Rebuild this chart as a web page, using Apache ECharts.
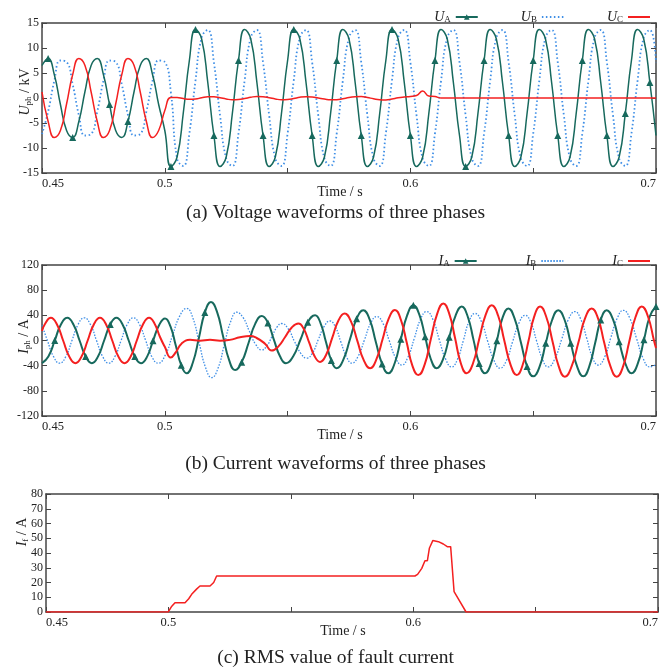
<!DOCTYPE html>
<html>
<head>
<meta charset="utf-8">
<script src="https://cdn.jsdelivr.net/npm/echarts@6/dist/echarts.min.js"></script>
<style>
  html, body { margin: 0; padding: 0; background: #fff; }
  #main { width: 671px; height: 668px; }
</style>
</head>
<body>
<div id="main"></div>
<script>
// ---- (a) phase voltages, kV, sampled every 2.5 ms ----
const voltTime = [
  0.45, 0.4525, 0.455, 0.4575, 0.46, 0.4625, 0.465, 0.4675, 0.47, 0.4725,
  0.475, 0.4775, 0.48, 0.4825, 0.485, 0.4875, 0.49, 0.4925, 0.495, 0.4975,
  0.5, 0.5025, 0.505, 0.5075, 0.51, 0.5125, 0.515, 0.5175, 0.52, 0.5225,
  0.525, 0.5275, 0.53, 0.5325, 0.535, 0.5375, 0.54, 0.5425, 0.545, 0.5475,
  0.55, 0.5525, 0.555, 0.5575, 0.56, 0.5625, 0.565, 0.5675, 0.57, 0.5725,
  0.575, 0.5775, 0.58, 0.5825, 0.585, 0.5875, 0.59, 0.5925, 0.595, 0.5975,
  0.6, 0.6025, 0.605, 0.6075, 0.61, 0.6125, 0.615, 0.6175, 0.62, 0.6225,
  0.625, 0.6275, 0.63, 0.6325, 0.635, 0.6375, 0.64, 0.6425, 0.645, 0.6475,
  0.65, 0.6525, 0.655, 0.6575, 0.66, 0.6625, 0.665, 0.6675, 0.67, 0.6725,
  0.675, 0.6775, 0.68, 0.6825, 0.685, 0.6875, 0.69, 0.6925, 0.695, 0.6975,
  0.7
];
const uA = [
  6.5, 7.9, 4.7, -1.3, -6.5, -7.9, -4.7, 1.3,
  6.5, 7.9, 4.7, -1.3, -6.5, -7.9, -4.7, 1.3,
  6.5, 7.9, 4.7, -1.3, -6.5,
  -13.7, -11.8, -3.1, 7.5, 13.7, 11.8, 3.1, -7.5,
  -13.7, -11.8, -3.1, 7.5, 13.7, 11.8, 3.1, -7.5,
  -13.7, -11.8, -3.1, 7.5, 13.7, 11.8, 3.1, -7.5,
  -13.7, -11.8, -3.1, 7.5, 13.7, 11.8, 3.1, -7.5,
  -13.7, -11.8, -3.1, 7.5, 13.7, 11.8, 3.1, -7.5,
  -13.7, -11.8, -3.1, 7.5, 13.7, 11.8, 3.1, -7.5,
  -13.7, -11.8, -3.1, 7.5, 13.7, 11.8, 3.1, -7.5,
  -13.7, -11.8, -3.1, 7.5, 13.7, 11.8, 3.1, -7.5,
  -13.7, -11.8, -3.1, 7.5, 13.7, 11.8, 3.1, -7.5,
  -13.7, -11.8, -3.1, 7.5, 13.7, 11.8, 3.1, -7.5
];
const uB = [
  -7.2, -2.7, 3.4, 7.5, 7.2, 2.7, -3.4, -7.5,
  -7.2, -2.7, 3.4, 7.5, 7.2, 2.7, -3.4, -7.5,
  -7.2, -2.7, 3.4, 7.5, 7.2, 1,
  -12.1, -13.6, -7.1, 3.5, 12.1, 13.6, 7.1, -3.5,
  -12.1, -13.6, -7.1, 3.5, 12.1, 13.6, 7.1, -3.5,
  -12.1, -13.6, -7.1, 3.5, 12.1, 13.6, 7.1, -3.5,
  -12.1, -13.6, -7.1, 3.5, 12.1, 13.6, 7.1, -3.5,
  -12.1, -13.6, -7.1, 3.5, 12.1, 13.6, 7.1, -3.5,
  -12.1, -13.6, -7.1, 3.5, 12.1, 13.6, 7.1, -3.5,
  -12.1, -13.6, -7.1, 3.5, 12.1, 13.6, 7.1, -3.5,
  -12.1, -13.6, -7.1, 3.5, 12.1, 13.6, 7.1, -3.5,
  -12.1, -13.6, -7.1, 3.5, 12.1, 13.6, 7.1, -3.5,
  -12.1, -13.6, -7.1, 3.5, 12.1, 13.6, 7.1
];
const uC = [
  1.2, -4.7, -7.9, -6.5, -1.2, 4.7, 7.9, 6.5,
  1.2, -4.7, -7.9, -6.5, -1.2, 4.7, 7.9, 6.5,
  1.2, -4.7, -7.9, -6.5, -2.5,
  0.1, 0.1, -0.1, -0.25, -0.2, 0.05, 0.25, 0.25, 0.05, -0.2,
  -0.35, -0.3, -0.1, 0.15, 0.3, 0.25, 0.05, -0.2, -0.35, -0.3,
  -0.1, 0.15, 0.25, 0.2, 0, -0.2, -0.35, -0.35, -0.15, 0.1,
  0.25, 0.3, 0.1, -0.15, -0.35, -0.4, -0.2, 0.05, 0.2, 0.3,
  0.5, 1.4, 0.4, 0.3, 0, 0, 0, 0, 0, 0,
  0, 0, 0, 0, 0, 0, 0, 0, 0, 0,
  0, 0, 0, 0, 0, 0, 0, 0, 0, 0,
  0, 0, 0, 0, 0, 0, 0, 0, 0, 0
];
const uAMarks = [0.4537, 0.4634, 0.4772, 0.4841, 0.5014, 0.5114, 0.5193, 0.5299, 0.5399,
  0.5514, 0.5605, 0.5702, 0.5806, 0.5914, 0.5994, 0.6107, 0.6215, 0.6301, 0.6405,
  0.6491, 0.6602, 0.67, 0.6792, 0.6885, 0.6966];

// ---- (b) phase currents, A: [time, value] at peaks, crossings and eighth points ----
const iA = [
  [0.45, -36], [0.4526, -25.5], [0.4552, 0], [0.4577, 25.5], [0.4603, 36],
  [0.4628, 25.5], [0.4653, 0], [0.4678, -25.5], [0.4703, -36],
  [0.4728, -25.5], [0.4753, 0], [0.4778, 25.5], [0.4803, 36],
  [0.4828, 25.5], [0.4853, 0], [0.4878, -25.5], [0.4903, -36],
  [0.4928, -25.6], [0.4952, -0.5], [0.4977, 24.6], [0.5001, 35],
  [0.5023, 22.3], [0.5045, -8.5], [0.5067, -39.3], [0.5089, -52],
  [0.5114, -35.4], [0.5139, 4.5], [0.5163, 44.4], [0.5188, 61],
  [0.5213, 45.2], [0.5237, 7], [0.5262, -31.2], [0.5286, -47],
  [0.5313, -34.4], [0.5341, -4], [0.5368, 26.4], [0.5395, 39],
  [0.542, 28], [0.5444, 1.5], [0.5469, -25], [0.5493, -36],
  [0.5523, -24.9], [0.5553, 2], [0.5582, 28.9], [0.5612, 40],
  [0.5634, 27.7], [0.5656, -2], [0.5678, -31.7], [0.57, -44],
  [0.5727, -30.5], [0.5754, 2], [0.5781, 34.5], [0.5808, 48],
  [0.5834, 33.4], [0.5859, -2], [0.5885, -37.4], [0.591, -52],
  [0.5936, -36.2], [0.5961, 2], [0.5987, 40.2], [0.6012, 56],
  [0.6036, 41.4], [0.606, 6], [0.6083, -29.4], [0.6107, -44],
  [0.6133, -29.6], [0.6158, 5], [0.6184, 39.6], [0.6209, 54],
  [0.6233, 38.5], [0.6257, 1], [0.628, -36.5], [0.6304, -52],
  [0.6328, -36.9], [0.6352, -0.5], [0.6375, 35.9], [0.6399, 51],
  [0.6424, 35.2], [0.645, -3], [0.6475, -41.2], [0.65, -57],
  [0.6526, -41.6], [0.6551, -4.5], [0.6577, 32.6], [0.6602, 48],
  [0.6628, 32.6], [0.6653, -4.5], [0.6679, -41.6], [0.6704, -57],
  [0.6728, -41.6], [0.6752, -4.5], [0.6775, 32.6], [0.6799, 48],
  [0.6825, 33.4], [0.685, -2], [0.6876, -37.4], [0.6901, -52],
  [0.6926, -36.5], [0.6951, 1], [0.6975, 38.5], [0.7, 54]
];
const iB = [
  [0.45, 24.5], [0.4522, 0], [0.4547, -25.5], [0.4572, -36],
  [0.4597, -25.5], [0.4622, 0], [0.4647, 25.5], [0.4672, 36],
  [0.4697, 25.5], [0.4722, 0], [0.4747, -25.5], [0.4772, -36],
  [0.4797, -25.5], [0.4822, 0], [0.4847, 25.5], [0.4872, 36],
  [0.4897, 25.5], [0.4922, 0], [0.4947, -25.5], [0.4973, -36],
  [0.5002, -23.3], [0.5031, 7.5], [0.506, 38.3], [0.5089, 51],
  [0.5115, 34.9], [0.514, -4], [0.5166, -42.9], [0.5191, -59],
  [0.5217, -43.8], [0.5242, -7], [0.5268, 29.8], [0.5293, 45],
  [0.5319, 36.2], [0.5344, 15], [0.537, -6.2], [0.5395, -15],
  [0.5415, -8.8], [0.5436, 6], [0.5456, 20.8], [0.5476, 27],
  [0.5502, 18.9], [0.5527, -0.5], [0.5553, -19.9], [0.5578, -28],
  [0.5602, -19.4], [0.5625, 1.5], [0.5649, 22.4], [0.5672, 31],
  [0.5695, 21.2], [0.5717, -2.5], [0.574, -26.2], [0.5762, -36],
  [0.5787, -25.2], [0.5813, 1], [0.5838, 27.2], [0.5863, 38],
  [0.5889, 26.7], [0.5914, -0.5], [0.594, -27.7], [0.5965, -39],
  [0.599, -26.5], [0.6016, 3.5], [0.6041, 33.5], [0.6066, 46],
  [0.6092, 33.1], [0.6117, 2], [0.6143, -29.1], [0.6168, -42],
  [0.6192, -29.5], [0.6216, 0.5], [0.6239, 30.5], [0.6263, 43],
  [0.6289, 30.3], [0.6314, -0.5], [0.634, -31.3], [0.6365, -44],
  [0.6391, -31.7], [0.6416, -2], [0.6442, 27.7], [0.6467, 40],
  [0.6491, 28], [0.6514, -1], [0.6538, -30], [0.6561, -42],
  [0.6588, -29.1], [0.6616, 2], [0.6643, 33.1], [0.667, 46],
  [0.6694, 33.5], [0.6718, 3.5], [0.6741, -26.5], [0.6765, -39],
  [0.6791, -26.3], [0.6816, 4.5], [0.6842, 35.3], [0.6867, 48],
  [0.6894, 34.8], [0.6921, 3], [0.6948, -28.8], [0.6975, -42],
  [0.7, -38]
];
const iC = [
  [0.45, 15], [0.4511, 25.5], [0.4536, 36],
  [0.4561, 25.5], [0.4586, 0], [0.4611, -25.5], [0.4636, -36],
  [0.4661, -25.5], [0.4686, 0], [0.4711, 25.5], [0.4736, 36],
  [0.4761, 25.5], [0.4786, 0], [0.4811, -25.5], [0.4836, -36],
  [0.4861, -25.5], [0.4886, 0], [0.4911, 25.5], [0.4936, 36],
  [0.4958, 27], [0.498, 6], [0.5, -10], [0.5024, -27],
  [0.5046, -18], [0.5068, -5], [0.5103, 1], [0.5143, -0.5], [0.5184, 1],
  [0.5225, -0.5], [0.5265, 1], [0.5306, 5], [0.5347, 7], [0.5374, 4],
  [0.5408, -5], [0.5435, -16],
  [0.5462, -9.7], [0.549, 5.5], [0.5517, 20.7], [0.5544, 27],
  [0.5566, 18.1], [0.5588, -3.5], [0.561, -25.1], [0.5632, -34],
  [0.5657, -22.7], [0.5682, 4.5], [0.5707, 31.7], [0.5732, 43],
  [0.5758, 30.3], [0.5784, -0.5], [0.581, -31.3], [0.5836, -44],
  [0.5861, -30.5], [0.5887, 2.3], [0.5912, 35], [0.5937, 48.5],
  [0.5961, 33.3], [0.5985, -3.3], [0.6008, -39.8], [0.6032, -55],
  [0.6058, -38.3], [0.6083, 2], [0.6109, 42.3], [0.6134, 59],
  [0.6158, 42.7], [0.6182, 3.5], [0.6205, -35.7], [0.6229, -52],
  [0.6255, -36.2], [0.628, 2], [0.6306, 40.2], [0.6331, 56],
  [0.6357, 39.7], [0.6382, 0.5], [0.6408, -38.7], [0.6433, -55],
  [0.6457, -39], [0.6481, -0.5], [0.6504, 38], [0.6528, 54],
  [0.6553, 37.7], [0.6579, -1.8], [0.6604, -41.2], [0.6629, -57.5],
  [0.6656, -41.6], [0.6684, -3.3], [0.6711, 35.1], [0.6738, 51],
  [0.6764, 35.1], [0.6789, -3.3], [0.6815, -41.6], [0.684, -57.5],
  [0.6866, -41.2], [0.6891, -1.8], [0.6917, 37.7], [0.6942, 54],
  [0.6967, 38.5], [0.6992, -0.5], [0.7, -12]
];
const iAMarks = [0.4557, 0.4689, 0.4784, 0.4869, 0.4962, 0.5069, 0.5171, 0.5317, 0.5425,
  0.5575, 0.5686, 0.5784, 0.5883, 0.5955, 0.6012, 0.6057, 0.6158, 0.628, 0.6351,
  0.648, 0.6561, 0.6661, 0.6765, 0.686, 0.6959, 0.6996];

// ---- (c) RMS of fault current, A ----
const rmsIf = [
  [0.45, 0], [0.4999, 0], [0.5012, 3.5], [0.5027, 6.3], [0.5068, 6.3], [0.5083, 9],
  [0.5095, 12], [0.5102, 12.2], [0.5115, 15.5], [0.5129, 17.6], [0.517, 17.6],
  [0.5185, 20], [0.5197, 24.4], [0.6007, 24.4], [0.6018, 25.5], [0.6035, 29.6],
  [0.6048, 34.8], [0.6058, 34.8], [0.6066, 43.2], [0.608, 48.4], [0.6103, 47.7],
  [0.6123, 46.1], [0.6139, 44.3], [0.6153, 44.3], [0.6167, 13.8], [0.6216, 0], [0.7, 0]
];

const xTickLabels = ['0.45', '0.5', '0.6', '0.7'];
const panelTitles = [
  '(a) Voltage waveforms of three phases',
  '(b) Current waveforms of three phases',
  '(c) RMS value of fault current'
];
const legendText = {
  UA: '{i|U}{s|A}', UB: '{i|U}{s|B}', UC: '{i|U}{s|C}',
  IA: '{i|I}{s|A}', IB: '{i|I}{s|B}', IC: '{i|I}{s|C}'
};

const serif = 'Liberation Serif';
const green = '#17695d', blue = '#3f8fe6', red = '#f42020', ink = '#222', frame = '#444';

const rich = {
  i: { fontFamily: serif, fontStyle: 'italic', fontSize: 14, color: ink },
  s: { fontFamily: serif, fontSize: 9, color: ink, padding: [6, 0, 0, 0] },
  n: { fontFamily: serif, fontSize: 14, color: ink }
};

// put a triangle on the sample nearest to each marker time
function markerSize(data, times, size) {
  const hit = new Set(times.map(t => {
    let best = 0;
    data.forEach((d, i) => {
      if (Math.abs(d[0] - t) < Math.abs(data[best][0] - t)) best = i;
    });
    return best;
  }));
  return (val, p) => hit.has(p.dataIndex) ? size : 0;
}

const voltData = k => voltTime.map((t, i) => [t, k[i]]);
const uAData = voltData(uA), uBData = voltData(uB), uCData = voltData(uC);

const grids = [
  { left: 42, top: 23, width: 614, height: 150 },
  { left: 42, top: 265, width: 614, height: 151 },
  { left: 46, top: 494, width: 612, height: 118 }
].map(g => Object.assign({ containLabel: false, outerBoundsMode: 'none' }, g));

const xAxes = [], yAxes = [];
const yRanges = [[-15, 15, 5], [-120, 120, 40], [0, 80, 10]];
const yNames = ['{i|U}{s|ph}{n| / kV}', '{i|I}{s|ph}{n| / A}', '{i|I}{s|f}{n| / A}'];
const yNamePad = [[0, 0, 0, 12], [0, 0, 0, 8], [0, 0, 0, 42]];
const yNameGap = [9, 10, 16];
const tick = { inside: true, length: 5, lineStyle: { color: frame, width: 1 } };
const line = { onZero: false, lineStyle: { color: frame, width: 1.5 } };

grids.forEach((g, gi) => {
  xAxes.push({
    type: 'value', gridIndex: gi, min: 0.45, max: 0.7, interval: 0.05,
    name: 'Time / s', nameLocation: 'middle', nameGap: 12, nameMoveOverlap: false,
    nameTextStyle: { fontFamily: serif, fontSize: 14, color: ink, padding: [0, 18, 0, 0] },
    axisLine: line, axisTick: tick, splitLine: { show: false },
    axisLabel: {
      margin: 4, fontFamily: serif, fontSize: 12.5, color: ink,
      alignMinLabel: 'left', alignMaxLabel: 'right',
      formatter: v => {
        const s = String(+v.toFixed(2));
        return xTickLabels.includes(s) ? s : '';
      }
    }
  });
  xAxes.push({
    type: 'value', gridIndex: gi, position: 'top', min: 0.45, max: 0.7, interval: 0.05,
    axisLine: line, axisTick: tick, axisLabel: { show: false }, splitLine: { show: false }
  });
  const [mn, mx, step] = yRanges[gi];
  yAxes.push({
    type: 'value', gridIndex: gi, min: mn, max: mx, interval: step,
    name: yNames[gi], nameLocation: 'middle', nameRotate: 90, nameGap: yNameGap[gi],
    nameMoveOverlap: false,
    nameTextStyle: { rich, padding: yNamePad[gi] },
    axisLine: line, axisTick: tick, splitLine: { show: false },
    axisLabel: { margin: 3, fontFamily: serif, fontSize: 12, color: ink }
  });
  yAxes.push({
    type: 'value', gridIndex: gi, position: 'right', min: mn, max: mx, interval: step,
    axisLine: line, axisTick: tick, axisLabel: { show: false }, splitLine: { show: false }
  });
});

// legend entries; plain lines hide the legend dot
const legendItem = (name, marked) => marked ? { name } : { name, itemStyle: { opacity: 0 } };
const legendBase = {
  right: 15, itemWidth: 22, itemHeight: 7, align: 'right',
  formatter: n => legendText[n], textStyle: { rich }, selectedMode: false
};

const option = {
  animation: false,
  backgroundColor: '#fff',
  title: panelTitles.map((t, i) => ({
    text: t, left: 'center', top: [203, 454, 648][i], padding: 0,
    textStyle: { fontFamily: serif, fontSize: 19.5, fontWeight: 'normal', color: ink }
  })),
  legend: [
    Object.assign({ data: [legendItem('UA', true), legendItem('UB'), legendItem('UC')], top: 5, itemGap: 42 }, legendBase),
    Object.assign({ data: [legendItem('IA', true), legendItem('IB'), legendItem('IC')], top: 249, itemGap: 48 }, legendBase)
  ],
  grid: grids,
  xAxis: xAxes,
  yAxis: yAxes,
  series: [
    {
      name: 'UB', type: 'line', xAxisIndex: 0, yAxisIndex: 0, data: uBData,
      smooth: 0.5, symbol: 'none',
      lineStyle: { color: blue, width: 1.8, type: [1.5, 2.5] }, itemStyle: { color: blue }
    },
    {
      name: 'UA', type: 'line', xAxisIndex: 0, yAxisIndex: 0, data: uAData,
      smooth: 0.5, symbol: 'triangle', showAllSymbol: true,
      symbolSize: markerSize(uAData, uAMarks, 7),
      lineStyle: { color: green, width: 1.5 }, itemStyle: { color: green }
    },
    {
      name: 'UC', type: 'line', xAxisIndex: 0, yAxisIndex: 0, data: uCData,
      smooth: 0.5, symbol: 'none',
      lineStyle: { color: red, width: 1.5 }, itemStyle: { color: red }
    },
    {
      name: 'IB', type: 'line', xAxisIndex: 2, yAxisIndex: 2, data: iB,
      smooth: 0.5, symbol: 'none',
      lineStyle: { color: blue, width: 1.3, type: [1.5, 1.5] }, itemStyle: { color: blue }
    },
    {
      name: 'IA', type: 'line', xAxisIndex: 2, yAxisIndex: 2, data: iA,
      smooth: 0.5, symbol: 'triangle', showAllSymbol: true,
      symbolSize: markerSize(iA, iAMarks, 7),
      lineStyle: { color: green, width: 2 }, itemStyle: { color: green }
    },
    {
      name: 'IC', type: 'line', xAxisIndex: 2, yAxisIndex: 2, data: iC,
      smooth: 0.5, symbol: 'none',
      lineStyle: { color: red, width: 2 }, itemStyle: { color: red }
    },
    {
      name: 'If', type: 'line', xAxisIndex: 4, yAxisIndex: 4, data: rmsIf,
      symbol: 'none',
      lineStyle: { color: red, width: 1.5 }, itemStyle: { color: red }
    }
  ]
};

const chart = echarts.init(document.getElementById('main'));
chart.setOption(option);
</script>
</body>
</html>
